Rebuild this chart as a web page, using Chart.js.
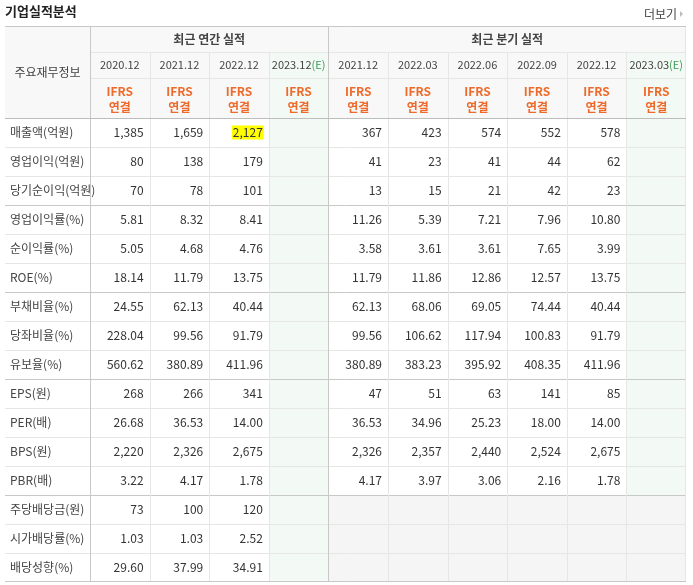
<!DOCTYPE html>
<html><head><meta charset="utf-8">
<script src="https://cdn.jsdelivr.net/npm/chart.js@4"></script>
<style>html,body{margin:0;padding:0;background:#fff}canvas{display:block}</style>
</head><body><canvas id="c" width="693" height="585"></canvas>
<script>
const title = '기업실적분석';
const moreLabel = '더보기';
const headerLabel = '주요재무정보';
const groupLabels = ['최근 연간 실적', '최근 분기 실적'];
const periods = ['2020.12','2021.12','2022.12','2023.12','2021.12','2022.03','2022.06','2022.09','2022.12','2023.03'];
const estimate = [false,false,false,true,false,false,false,false,false,true];
const rowLabels = ['매출액(억원)','영업이익(억원)','당기순이익(억원)','영업이익률(%)','순이익률(%)','ROE(%)','부채비율(%)','당좌비율(%)','유보율(%)','EPS(원)','PER(배)','BPS(원)','PBR(배)','주당배당금(원)','시가배당률(%)','배당성향(%)'];
const annual = [
 ['1,385','1,659','2,127',''],['80','138','179',''],['70','78','101',''],
 ['5.81','8.32','8.41',''],['5.05','4.68','4.76',''],['18.14','11.79','13.75',''],
 ['24.55','62.13','40.44',''],['228.04','99.56','91.79',''],['560.62','380.89','411.96',''],
 ['268','266','341',''],['26.68','36.53','14.00',''],['2,220','2,326','2,675',''],['3.22','4.17','1.78',''],
 ['73','100','120',''],['1.03','1.03','2.52',''],['29.60','37.99','34.91','']];
const quarterly = [
 ['367','423','574','552','578',''],['41','23','41','44','62',''],['13','15','21','42','23',''],
 ['11.26','5.39','7.21','7.96','10.80',''],['3.58','3.61','3.61','7.65','3.99',''],['11.79','11.86','12.86','12.57','13.75',''],
 ['62.13','68.06','69.05','74.44','40.44',''],['99.56','106.62','117.94','100.83','91.79',''],['380.89','383.23','395.92','408.35','411.96',''],
 ['47','51','63','141','85',''],['36.53','34.96','25.23','18.00','14.00',''],['2,326','2,357','2,440','2,524','2,675',''],['4.17','3.97','3.06','2.16','1.78',''],
 null,null,null];
const groupBreaks = [3,6,9,13];
const highlight = {row:0,col:2};

const colIdx = periods.map((p,i)=>i);
const rowIdx = rowLabels.map((r,i)=>i);
const F = '"Noto Sans CJK KR","Noto Sans",sans-serif';

const tablePlugin = {
 id:'table',
 afterDraw(chart){
  const ctx = chart.ctx, xs = chart.scales.x, ys = chart.scales.y, ca = chart.chartArea;
  const colW = xs.getPixelForValue(1)-xs.getPixelForValue(0);
  const rowH = ys.getPixelForValue(1)-ys.getPixelForValue(0);
  const L = 5, R = ca.right, T = 26, B = ca.bottom;
  const colL = i => xs.getPixelForValue(i)-colW/2;
  const rowT = i => ys.getPixelForValue(i)-rowH/2;
  const h1 = 52, h2 = 78;
  ctx.save();
  ctx.fillStyle='#f8f8f8'; ctx.fillRect(L,T,R-L,ca.top-T);
  colIdx.forEach(i=>{ if(estimate[i]){ ctx.fillStyle='#f3f9f4'; ctx.fillRect(colL(i),h1,colW,B-h1);} });
  rowIdx.forEach(r=>{ if(!quarterly[r]){ ctx.fillStyle='#f5f5f5'; ctx.fillRect(colL(4),rowT(r),R-colL(4),rowH);} });
  ctx.lineWidth=1;
  const hl=(y,x0,x1,c)=>{ctx.strokeStyle=c;ctx.beginPath();ctx.moveTo(x0,Math.round(y)+.5);ctx.lineTo(x1,Math.round(y)+.5);ctx.stroke();};
  const vl=(x,y0,y1,c)=>{ctx.strokeStyle=c;ctx.beginPath();ctx.moveTo(Math.round(x)+.5,y0);ctx.lineTo(Math.round(x)+.5,y1);ctx.stroke();};
  hl(h1,ca.left,R,'#e6e6e6'); hl(h2,ca.left,R,'#e6e6e6');
  rowIdx.forEach(r=>{ if(r>0) hl(rowT(r),L,R, groupBreaks.includes(r)?'#c8c8c8':'#e6e6e6'); });
  colIdx.forEach(i=>{ if(i>0 && i!==4) vl(colL(i),h1,B,'#e6e6e6'); });
  vl(colL(0),T,B,'#c8c8c8'); vl(colL(4),T,B,'#c8c8c8'); vl(R-1,T,B,'#e6e6e6');
  hl(T,L,R,'#c8c8c8'); hl(ca.top,L,R,'#bdbdbd'); hl(B-1,L,R,'#c8c8c8');
  ctx.fillStyle='#222'; ctx.font='bold 13px '+F; ctx.textBaseline='middle'; ctx.textAlign='left';
  ctx.fillText(title,5,11);
  ctx.font='12px '+F; ctx.fillStyle='#444'; ctx.textAlign='right'; ctx.fillText(moreLabel,677,14);
  ctx.fillStyle='#bbb'; ctx.beginPath(); ctx.moveTo(680,11); ctx.lineTo(683,14); ctx.lineTo(680,17); ctx.fill();
  ctx.textAlign='center'; ctx.font='bold 12px '+F; ctx.fillStyle='#444';
  ctx.fillText(groupLabels[0],(colL(0)+colL(4))/2,(T+h1)/2);
  ctx.fillText(groupLabels[1],(colL(4)+R)/2,(T+h1)/2);
  ctx.font='12px '+F; ctx.fillStyle='#444'; ctx.fillText(headerLabel,(L+colL(0))/2,(T+ca.top)/2);
  colIdx.forEach(i=>{
   const cx = xs.getPixelForValue(i), cy=(h1+h2)/2;
   ctx.font='11px '+F;
   if(estimate[i]){
    const a=periods[i], b='(E)'; const wa=ctx.measureText(a).width, wb=ctx.measureText(b).width;
    const x0=cx-(wa+wb)/2; ctx.textAlign='left'; ctx.fillStyle='#444'; ctx.fillText(a,x0,cy);
    ctx.fillStyle='#3d9a5a'; ctx.fillText(b,x0+wa,cy); ctx.textAlign='center';
   } else { ctx.fillStyle='#444'; ctx.fillText(periods[i],cx,cy); }
   ctx.fillStyle='#ee6a2a'; ctx.font='bold 12px '+F;
   ctx.fillText('IFRS',cx,(h2+ca.top)/2-7); ctx.fillText('연결',cx,(h2+ca.top)/2+9);
  });
  rowIdx.forEach(r=>{
   const cy = ys.getPixelForValue(r);
   ctx.font='12px '+F; ctx.textAlign='left'; ctx.fillStyle='#444';
   ctx.fillText(rowLabels[r],10,cy);
   const vals = annual[r].concat(quarterly[r]||[]);
   ctx.textAlign='right';
   vals.forEach((v,i)=>{
    if(!v) return;
    const xr = colL(i)+colW-6;
    if(r===highlight.row && i===highlight.col){
     const w=ctx.measureText(v).width; ctx.fillStyle='#ffff00'; ctx.fillRect(xr-w-1,cy-7,w+2,14);
    }
    ctx.fillStyle='#333'; ctx.fillText(v,xr,cy);
   });
  });
  ctx.restore();
 }
};

new Chart(document.getElementById('c'),{
 type:'bar',
 data:{labels:colIdx,datasets:[{data:[],backgroundColor:'transparent'}]},
 options:{responsive:false,animation:false,
  layout:{padding:{left:90,top:118,right:7,bottom:3}},
  plugins:{legend:{display:false},tooltip:{enabled:false}},
  scales:{x:{type:'category',labels:colIdx,display:false,offset:true,grid:{offset:true}},
          y:{type:'category',labels:rowIdx,display:false,offset:true,grid:{offset:true}}}},
 plugins:[tablePlugin]
});
</script></body></html>
